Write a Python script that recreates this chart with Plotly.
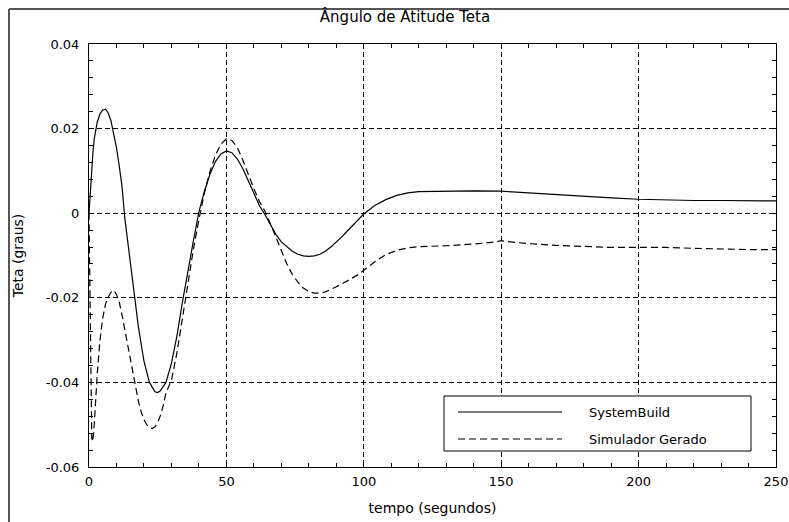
import plotly.graph_objects as go

# SystemBuild response (solid)
t_sb = [0, 0.5, 1, 1.5, 2, 3, 4, 5, 6, 7, 8, 9, 10, 11, 12, 13, 14, 16, 18, 20,
        22, 24, 25, 26, 28, 30, 32, 34, 36, 38, 40, 42, 44, 46, 48, 50, 52, 54,
        56, 58, 60, 62, 64, 66, 68, 70, 72, 74, 76, 78, 80, 82, 84, 86, 88, 90,
        92, 94, 96, 98, 100, 104, 108, 112, 116, 120, 130, 140, 150, 160, 170,
        180, 190, 200, 210, 220, 230, 240, 250]
teta_sb = [0, 0.006, 0.011, 0.015, 0.018, 0.0215, 0.0235, 0.0244, 0.0246,
           0.0237, 0.0218, 0.019, 0.0155, 0.0112, 0.0064, -0.001, -0.006,
           -0.0165, -0.027, -0.035, -0.040, -0.0422, -0.0424, -0.042, -0.040,
           -0.0355, -0.029, -0.021, -0.0135, -0.0065, 0.0003, 0.0052, 0.0092,
           0.0122, 0.014, 0.0147, 0.0143, 0.0128, 0.0105, 0.0075, 0.0045,
           0.0018, -0.0003, -0.0028, -0.005, -0.0068, -0.008, -0.009, -0.0097,
           -0.0101, -0.0102, -0.0101, -0.0097, -0.009, -0.008, -0.0069, -0.0056,
           -0.0042, -0.0028, -0.0014, -0.0002, 0.0018, 0.0032, 0.0042, 0.0048,
           0.0051, 0.0052, 0.0053, 0.0052, 0.0048, 0.0043, 0.0039, 0.0036,
           0.0033, 0.0031, 0.003, 0.003, 0.003, 0.0029]

# Simulador Gerado response (dashed)
t_sim = [0, 0.3, 0.6, 1, 1.3, 1.7, 2, 3, 4, 5, 6, 7, 8, 9, 10, 11, 12, 13, 14,
         15, 16, 17, 18, 19, 20, 21, 22, 23, 24, 25, 26, 27, 28, 29, 30, 32, 34,
         36, 38, 40, 42, 44, 46, 48, 50, 52, 54, 56, 58, 60, 62, 64, 66, 68, 70,
         72, 74, 76, 78, 80, 82, 84, 86, 88, 90, 94, 98, 100, 104, 108, 112, 116,
         120, 130, 140, 148, 150, 152, 160, 170, 180, 190, 200, 210, 220, 230,
         240, 250]
teta_sim = [0, -0.02, -0.04, -0.053, -0.054, -0.052, -0.049, -0.038, -0.030,
            -0.0248, -0.0215, -0.0198, -0.0187, -0.0182, -0.0192, -0.021,
            -0.024, -0.0275, -0.031, -0.0345, -0.038, -0.0415, -0.0445, -0.047,
            -0.0488, -0.05, -0.0507, -0.0509, -0.0505, -0.0495, -0.0478,
            -0.0455, -0.0425, -0.041, -0.0395, -0.033, -0.0245, -0.016, -0.0085,
            -0.0015, 0.0048, 0.0098, 0.0137, 0.0163, 0.0176, 0.0172, 0.0155,
            0.0125, 0.009, 0.0058, 0.0028, 0.0005, -0.0025, -0.0058, -0.009,
            -0.012, -0.0145, -0.0163, -0.0177, -0.0185, -0.0189, -0.0189,
            -0.0186, -0.018, -0.0174, -0.016, -0.0145, -0.0135, -0.0115, -0.0098,
            -0.0088, -0.0082, -0.0079, -0.0077, -0.0073, -0.0068, -0.0065,
            -0.0067, -0.0072, -0.0076, -0.0079, -0.0081, -0.0081, -0.0081,
            -0.0083, -0.0085, -0.0086, -0.0086]

x_ticks = [0, 50, 100, 150, 200, 250]
y_ticks = [0.04, 0.02, 0, -0.02, -0.04, -0.06]
y_ticktext = ["0.04", "0.02", "0", "-0.02", "-0.04", "-0.06"]
legend_names = ["SystemBuild", "Simulador Gerado"]

FONT = "DejaVu Sans, Verdana, sans-serif"
FSIZE = 13

W, H = 789, 522
# plot area in window pixels, used to place the hand-drawn legend and frame
L, R, T, B = 89, 776, 44, 467
def px(x):
    return (x - L) / (R - L)
def py(y):
    return (B - y) / (B - T)

fig = go.Figure()
fig.add_trace(go.Scatter(x=t_sb, y=teta_sb, mode="lines", name=legend_names[0],
                         line=dict(color="black", width=1.2), showlegend=False))
fig.add_trace(go.Scatter(x=t_sim, y=teta_sim, mode="lines", name=legend_names[1],
                         line=dict(color="black", width=1.2, dash="7px,4px"),
                         showlegend=False))

axis_common = dict(
    showline=True, linecolor="black", linewidth=1, mirror="ticks",
    ticks="inside", ticklen=4, tickcolor="black",
    showgrid=True, gridcolor="black", gridwidth=1, griddash="5px,3px",
    zeroline=False, automargin=False,
    tickfont=dict(family=FONT, size=FSIZE, color="black"),
)

fig.update_xaxes(range=[0, 250], tickvals=x_ticks,
                 minor=dict(dtick=10, ticks="inside", ticklen=4, tickcolor="black", showgrid=False),
                 title=dict(text="tempo (segundos)", font=dict(family=FONT, size=FSIZE + 1, color="black")),
                 ticklabelstandoff=2,
                 **axis_common)
fig.update_yaxes(range=[-0.06, 0.04], tickvals=y_ticks, ticktext=y_ticktext,
                 minor=dict(dtick=0.004, ticks="inside", ticklen=4, tickcolor="black", showgrid=False),
                 title=dict(text="Teta (graus)", font=dict(family=FONT, size=FSIZE + 1, color="black"),
                            standoff=18),
                 ticklabelstandoff=6,
                 **axis_common)

shapes = [
    # outer window frame (left and top edges)
    dict(type="line", xref="paper", yref="paper", x0=px(9), x1=px(9), y0=py(530), y1=py(9),
         line=dict(color="#555555", width=2)),
    dict(type="line", xref="paper", yref="paper", x0=px(9), x1=px(800), y0=py(9), y1=py(9),
         line=dict(color="#555555", width=2)),
    # legend box
    dict(type="rect", xref="paper", yref="paper", x0=px(444), x1=px(751), y0=py(451), y1=py(396),
         line=dict(color="black", width=1), fillcolor="white", layer="above"),
    dict(type="line", xref="paper", yref="paper", x0=px(458), x1=px(562), y0=py(412), y1=py(412),
         line=dict(color="black", width=1.2)),
    dict(type="line", xref="paper", yref="paper", x0=px(458), x1=px(562), y0=py(439), y1=py(439),
         line=dict(color="black", width=1.2, dash="7px,4px")),
]
annotations = [
    dict(text=legend_names[0], xref="paper", yref="paper", x=px(587), y=py(412),
         xanchor="left", yanchor="middle", showarrow=False,
         font=dict(family=FONT, size=FSIZE, color="black")),
    dict(text=legend_names[1], xref="paper", yref="paper", x=px(587), y=py(439),
         xanchor="left", yanchor="middle", showarrow=False,
         font=dict(family=FONT, size=FSIZE, color="black")),
]

fig.update_layout(
    width=W, height=H,
    margin=dict(l=L, r=W - R, t=T, b=H - B),
    paper_bgcolor="white", plot_bgcolor="white",
    title=dict(text="Ângulo de Atitude Teta", x=405 / W, xanchor="center",
               y=1 - 17 / H, yanchor="middle",
               font=dict(family=FONT, size=FSIZE + 2, color="black")),
    shapes=shapes, annotations=annotations,
    showlegend=False,
)

# drop the page's default body margin so the figure fills the window exactly
fig.write_html("out.html", config={"displayModeBar": False},
               post_script="document.body.style.margin='0';document.body.style.overflow='hidden';")
